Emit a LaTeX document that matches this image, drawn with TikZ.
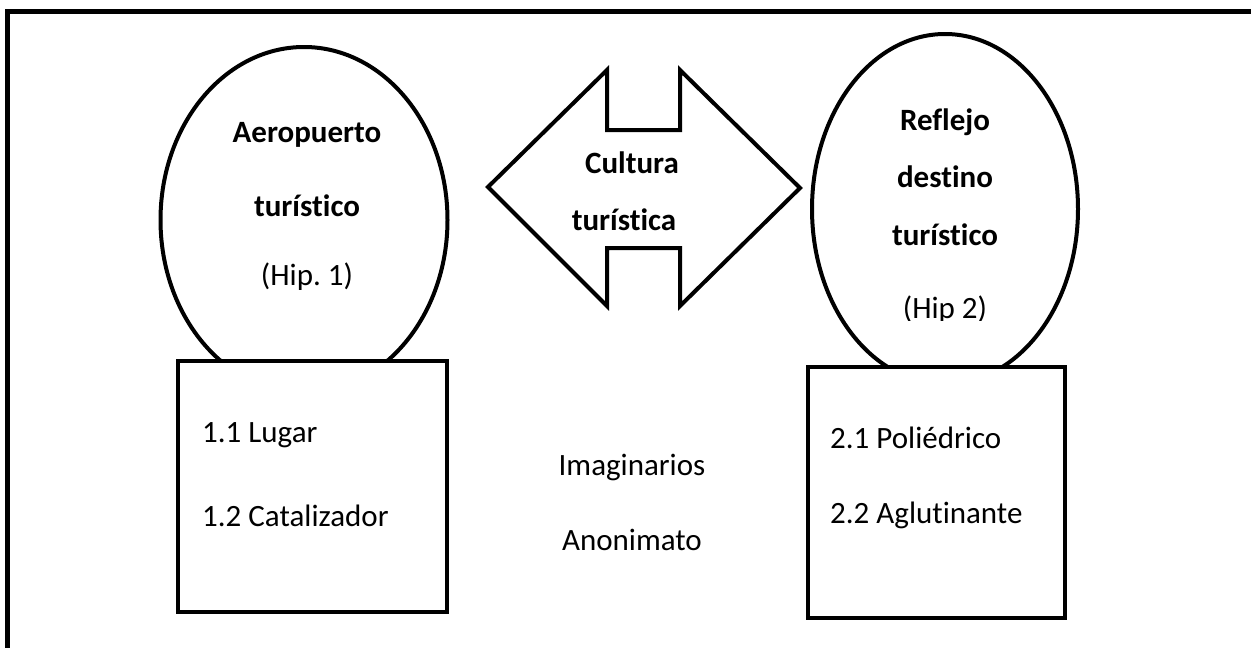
\documentclass[tikz,border=0pt]{standalone}
\usepackage{fontspec}
\setmainfont{Carlito}[Ligatures={NoCommon,NoContextual}]
\usetikzlibrary{shapes.geometric}
\begin{document}
\frenchspacing
\begin{tikzpicture}[x=1pt,y=-1pt,
  shapeline/.style={draw=black,line width=4pt,fill=white},
  oval/.style={shapeline,ellipse,inner sep=0pt},
  box/.style={shapeline,rectangle,inner sep=0pt},
  lbl/.style={anchor=base,inner sep=0pt,font=\fontsize{31}{36}\selectfont},
  blbl/.style={lbl,font=\fontsize{31}{36}\selectfont\bfseries},
  llbl/.style={lbl,anchor=base west}]
\useasboundingbox (0,0) rectangle (1251,648);
\fill[white] (0,0) rectangle (1251,648);
% outer frame (only top and left visible)
\coordinate (fr1) at (1262,11);
\coordinate (fr2) at (7,11);
\coordinate (fr3) at (7,660);
\draw[line width=5pt] (fr1) -- (fr2) -- (fr3);
% ellipses
\node[oval,minimum width=287pt,minimum height=346pt] (e1) at (304,220) {};
\node[oval,minimum width=266pt,minimum height=350pt] (e2) at (945,209) {};
% texts in ellipses
\node[blbl] (t1) at (307,142) {Aeropuerto};
\node[blbl] (t2) at (307,216) {turístico};
\node[lbl] (t3) at (307,285) {(Hip.\ 1)};
\node[blbl] (t4) at (945,130) {Reflejo};
\node[blbl] (t5) at (945,187) {destino};
\node[blbl] (t6) at (945,245) {turístico};
\begin{scope}
\clip (800,0) rectangle (1100,320);
\node[lbl] (t7) at (945,318) {(Hip 2)};
\end{scope}
% boxes
\node[box,minimum width=269pt,minimum height=251pt] (b1) at (312.5,486.5) {};
\node[box,minimum width=257pt,minimum height=251pt] (b2) at (936.5,492.5) {};
\node[llbl] (l1) at (202,442) {1.1 Lugar};
\node[llbl] (l2) at (202,526) {1.2 Catalizador};
\node[llbl] (r1) at (830,448) {2.1 Poliédrico};
\node[llbl] (r2) at (830,523) {2.2 Aglutinante};
% double arrow
\coordinate (aL) at (488,187);
\coordinate (aR) at (800,188);
\draw[line width=4pt,line join=miter,fill=white]
  (aL) -- (607,70) -- (607,130) -- (680,130) -- (680,70) -- (aR)
  -- (680,306) -- (680,248) -- (607,248) -- (607,306) -- cycle;
\node[blbl] (c1) at (632,173) {Cultura};
\node[blbl] (c2) at (624,230) {turística};
% middle texts
\node[lbl] (m1) at (632,475) {Imaginarios};
\node[lbl] (m2) at (632,550) {Anonimato};
\end{tikzpicture}
\end{document}
